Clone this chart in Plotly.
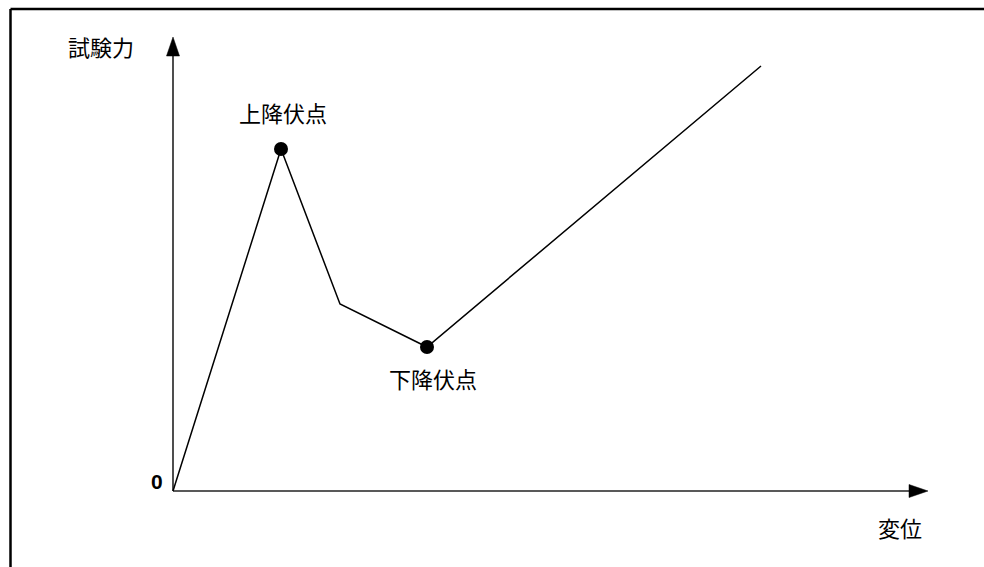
import plotly.graph_objects as go

# Load-displacement curve with an upper and lower yield point
displacement = [0, 108, 167, 254, 588]
test_force = [0, 342, 187, 144, 425]

yield_labels = ["上降伏点", "下降伏点"]
yield_index = [1, 3]

x_axis_label = "変位"
y_axis_label = "試験力"
origin_label = "0"

# axis extents (arrow tips) in data units
x_axis_end = 755
y_axis_end = 454

W, H = 984, 567
x0_px, y0_px = 173, 491  # where the origin sits on the page

cjk = "Noto Sans CJK JP, Noto Sans CJK SC, sans-serif"
ink = "#000000"
label_size = 22

fig = go.Figure()

# axes drawn as plain lines ending at triangular heads
head_len, head_half = 19, 6.5
fig.add_trace(go.Scatter(x=[0, x_axis_end - head_len], y=[0, 0], mode="lines",
                         line=dict(color="#222", width=1.6), hoverinfo="skip"))
fig.add_trace(go.Scatter(x=[0, 0], y=[0, y_axis_end - head_len], mode="lines",
                         line=dict(color="#222", width=1.6), hoverinfo="skip"))

# curve
fig.add_trace(go.Scatter(x=displacement, y=test_force, mode="lines",
                         line=dict(color=ink, width=1.5), hoverinfo="skip"))

# yield point markers
fig.add_trace(go.Scatter(x=[displacement[i] for i in yield_index],
                         y=[test_force[i] for i in yield_index],
                         mode="markers",
                         marker=dict(color=ink, size=14, line=dict(width=0)),
                         hoverinfo="skip"))

shapes = [
    dict(type="path", xref="x", yref="y",
         path=f"M {x_axis_end - head_len},{-head_half} L {x_axis_end},0 L {x_axis_end - head_len},{head_half} Z",
         fillcolor=ink, line=dict(color=ink, width=0.5)),
    dict(type="path", xref="x", yref="y",
         path=f"M {-head_half},{y_axis_end - head_len} L 0,{y_axis_end} L {head_half},{y_axis_end - head_len} Z",
         fillcolor=ink, line=dict(color=ink, width=0.5)),
    # frame edges along top and left
    dict(type="line", xref="paper", yref="paper", x0=10.5 / W, x1=1, y0=1 - 9 / H, y1=1 - 9 / H,
         line=dict(color=ink, width=2.5)),
    dict(type="line", xref="paper", yref="paper", x0=10.5 / W, x1=10.5 / W, y0=0, y1=1 - 9 / H,
         line=dict(color=ink, width=2.5)),
]

annotations = [
    dict(x=displacement[yield_index[0]], y=test_force[yield_index[0]], text=yield_labels[0],
         showarrow=False, yshift=37, xshift=2, font=dict(family=cjk, size=label_size, color=ink)),
    dict(x=displacement[yield_index[1]], y=test_force[yield_index[1]], text=yield_labels[1],
         showarrow=False, yshift=-31, xshift=6, font=dict(family=cjk, size=label_size, color=ink)),
    dict(x=0, y=y_axis_end, text=y_axis_label, showarrow=False, xshift=-72, yshift=-9,
         font=dict(family=cjk, size=label_size, color=ink)),
    dict(x=x_axis_end, y=0, text=x_axis_label, showarrow=False, xshift=-28, yshift=-36,
         font=dict(family=cjk, size=label_size, color=ink)),
    dict(x=0, y=0, text=origin_label, showarrow=False, xshift=-16, yshift=10,
         font=dict(family="Liberation Sans, Arial, sans-serif", size=21, color=ink, weight="bold")),
]

fig.update_layout(
    width=W, height=H,
    margin=dict(l=0, r=0, t=0, b=0),
    paper_bgcolor="white", plot_bgcolor="white",
    showlegend=False,
    xaxis=dict(range=[-x0_px, W - x0_px], visible=False, fixedrange=True),
    yaxis=dict(range=[-(H - y0_px), y0_px], visible=False, fixedrange=True),
    shapes=shapes,
    annotations=annotations,
)

fig.write_html("out.html")
